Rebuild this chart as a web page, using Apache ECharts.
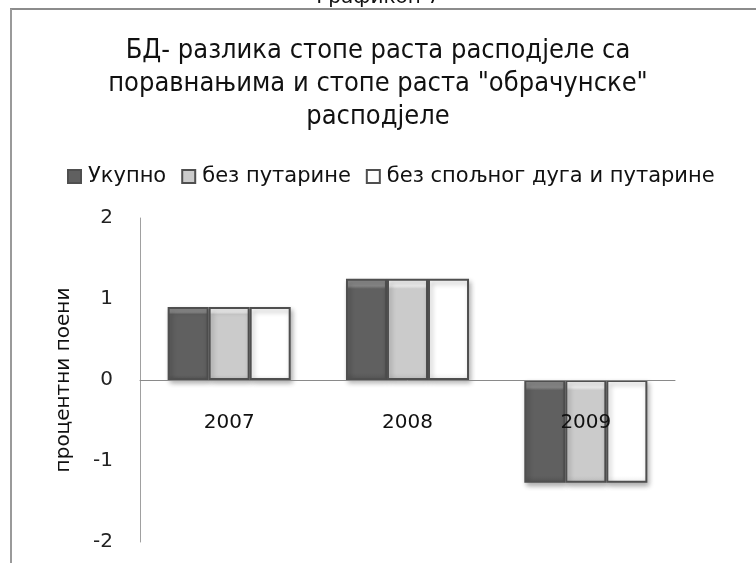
<!DOCTYPE html>
<html>
<head>
<meta charset="utf-8">
<script src="https://cdn.jsdelivr.net/npm/echarts@6/dist/echarts.min.js"></script>
<style>
  html, body { margin: 0; padding: 0; background: #fff; }
  #chart { width: 756px; height: 563px; }
</style>
</head>
<body>
<div id="chart"></div>
<script>
// data
var years = ['2007', '2008', '2009'];
var ukupno = [0.9, 1.25, -1.27];
var bezPutarine = [0.9, 1.25, -1.27];
var bezDugaPutarine = [0.9, 1.25, -1.27];
var seriesNames = ['Укупно', 'без путарине', 'без спољног дуга и путарине'];
var yTicks = [-2, -1, 0, 1, 2];

var chart = echarts.init(document.getElementById('chart'));

function bevel(light, main, dark) {
  return {
    type: 'linear', x: 0, y: 0, x2: 0, y2: 1,
    colorStops: [
      { offset: 0, color: light },
      { offset: 0.07, color: light },
      { offset: 0.1, color: main },
      { offset: 0.93, color: main },
      { offset: 1, color: dark }
    ]
  };
}

function barSeries(name, data, fill) {
  return {
    name: name,
    type: 'bar',
    data: data,
    barGap: 0,
    barCategoryGap: '31%',
    itemStyle: {
      color: fill,
      borderColor: '#4f4f4f',
      borderWidth: 2,
      shadowColor: 'rgba(0,0,0,0.3)',
      shadowBlur: 5,
      shadowOffsetX: 2,
      shadowOffsetY: 3
    }
  };
}

chart.setOption({
  animation: false,
  backgroundColor: '#fff',
  textStyle: { fontFamily: 'DejaVu Sans' },
  title: {
    text: 'БД- разлика стопе раста расподјеле са\nпоравнањима и стопе раста "обрачунске"\nрасподјеле',
    left: 'center',
    top: 29,
    textStyle: {
      fontFamily: 'DejaVu Sans Condensed',
      fontSize: 27,
      fontWeight: 'normal',
      color: '#111',
      lineHeight: 33
    }
  },
  legend: {
    top: 161,
    left: 62,
    icon: 'rect',
    itemWidth: 13,
    itemHeight: 13,
    itemGap: 15,
    textStyle: { fontFamily: 'DejaVu Sans', fontSize: 21, color: '#111', padding: [0, 0, 0, 2] },
    data: seriesNames
  },
  grid: { left: 140, right: 81, top: 218, bottom: 21, outerBoundsMode: 'none', containLabel: false },
  xAxis: {
    type: 'category',
    data: years,
    z: 10,
    axisLine: { onZero: true, lineStyle: { color: '#8a8a8a', width: 1 } },
    axisTick: { show: false },
    axisLabel: { margin: -129, fontSize: 20, color: '#111' },
    splitLine: { show: false }
  },
  yAxis: {
    type: 'value',
    min: yTicks[0],
    max: yTicks[yTicks.length - 1],
    interval: 1,
    name: 'процентни поени',
    nameLocation: 'middle',
    nameGap: 66,
    nameTextStyle: { fontSize: 20, color: '#111' },
    axisLine: { show: true, lineStyle: { color: '#a0a0a0', width: 1 } },
    axisTick: { show: false },
    axisLabel: { margin: 27, fontSize: 20, color: '#222' },
    splitLine: { show: false }
  },
  series: [
    barSeries(seriesNames[0], ukupno, bevel('#8a8a8a', '#606060', '#555')),
    barSeries(seriesNames[1], bezPutarine, bevel('#f2f2f2', '#cbcbcb', '#bdbdbd')),
    barSeries(seriesNames[2], bezDugaPutarine, bevel('#ffffff', '#ffffff', '#f0f0f0'))
  ],
  graphic: [
    { type: 'line', shape: { x1: 10, y1: 9, x2: 756, y2: 9 }, style: { stroke: '#8c8c8c', lineWidth: 2 } },
    { type: 'line', shape: { x1: 11, y1: 9, x2: 11, y2: 563 }, style: { stroke: '#9a9a9a', lineWidth: 2 } },
    {
      type: 'text', left: 'center', top: -12,
      style: { text: 'Графикон 7', font: '20px "DejaVu Sans"', fill: '#111' }
    }
  ]
});
</script>
</body>
</html>
